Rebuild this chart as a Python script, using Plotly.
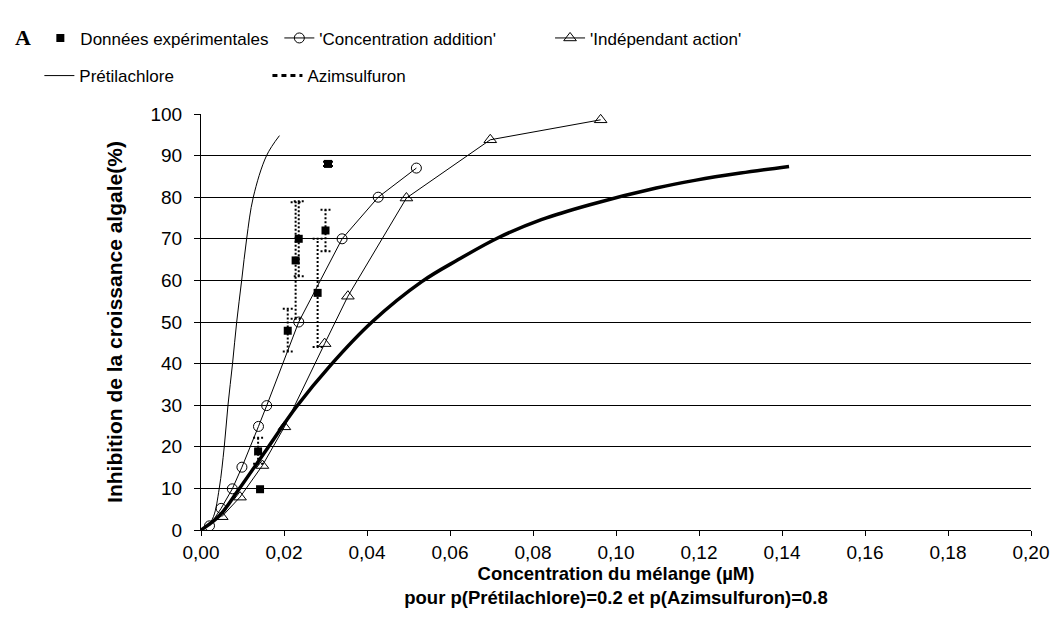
import plotly.graph_objects as go

# ---------------- data ----------------
exp_x = [0.01376, 0.01423, 0.0209, 0.0228, 0.02355, 0.0281, 0.0300, 0.0306]
exp_y = [18.9, 9.8, 47.9, 64.8, 70.0, 57.0, 72.0, 88.0]
exp_err_lo = [3.0, 0.0, 5.0, 14.0, 9.0, 13.0, 5.0, 0.5]
exp_err_hi = [3.3, 0.0, 5.3, 14.0, 9.0, 13.0, 5.0, 0.5]

ca_x = [0.00205, 0.00485, 0.00755, 0.00986, 0.01385, 0.01583, 0.02355, 0.0340, 0.0427, 0.0519]
ca_y = [1.0, 5.2, 9.9, 15.1, 24.9, 29.9, 50.0, 70.0, 80.0, 87.0]

ia_x = [0.0050, 0.0094, 0.0148, 0.0201, 0.0298, 0.0354, 0.0495, 0.0697, 0.0963]
ia_y = [3.2, 7.9, 15.5, 24.8, 44.8, 56.2, 79.8, 93.8, 98.6]

pret_x = [0.0, 0.0015, 0.0030, 0.0044, 0.0056, 0.0065, 0.0076, 0.0086, 0.0098, 0.0110, 0.0126, 0.0158, 0.0189]
pret_y = [0.0, 0.8, 3.2, 10.0, 20.0, 30.0, 40.0, 50.0, 60.0, 70.0, 80.0, 90.0, 94.8]

azim_x = [0.0, 0.0045, 0.0090, 0.0159, 0.0229, 0.0313, 0.0412, 0.0532, 0.0620, 0.0715, 0.0820,
          0.0937, 0.1097, 0.1193, 0.1300, 0.1417]
azim_y = [0.0, 3.5, 9.6, 19.5, 29.5, 39.7, 50.0, 59.7, 65.0, 70.2, 74.6,
          78.2, 82.2, 84.1, 85.8, 87.4]

x_tick_vals = [0.00, 0.02, 0.04, 0.06, 0.08, 0.10, 0.12, 0.14, 0.16, 0.18, 0.20]
y_tick_vals = [0, 10, 20, 30, 40, 50, 60, 70, 80, 90, 100]

# ---------------- layout geometry ----------------
OFF = 8                     # default page margin around the figure
W, H = 1061 - OFF, 628 - OFF
L, R, T, B = 193, 23, 102, 98
PW, PH = W - L - R, H - T - B
CAP = 0.0012  # half-width of the error-bar caps in x units

def px(xpage):
    return (xpage - OFF - L) / PW

def py(ypage):
    return (H - B - (ypage - OFF)) / PH

FONT = "Liberation Sans, Arial, sans-serif"

fig = go.Figure()

# Prétilachlore (thin curve)
fig.add_trace(go.Scatter(x=pret_x, y=pret_y, mode="lines", line=dict(color="black", width=1, shape="spline"),
                         name="Prétilachlore", legend="legend4"))
# Azimsulfuron (bold curve) + legend-only dashed sample
fig.add_trace(go.Scatter(x=azim_x, y=azim_y, mode="lines", line=dict(color="black", width=3.5, shape="spline"),
                         showlegend=False))
fig.add_trace(go.Scatter(x=[None], y=[None], mode="lines", line=dict(color="black", width=3, dash="5px,4px"),
                         name="Azimsulfuron", legend="legend5"))
# Concentration addition
fig.add_trace(go.Scatter(x=ca_x, y=ca_y, mode="lines+markers", line=dict(color="black", width=1),
                         marker=dict(symbol="circle-open", size=10, color="black", line=dict(width=1)),
                         name="'Concentration addition'", legend="legend2"))
# Independent action
fig.add_trace(go.Scatter(x=ia_x, y=ia_y, mode="lines+markers", line=dict(color="black", width=1),
                         marker=dict(symbol="triangle-up-open", size=11, color="black", line=dict(width=1)),
                         name="'Indépendant action'", legend="legend3"))

# error bars (dotted), built from the data
ex, ey = [], []
for xv, yv, lo, hi in zip(exp_x, exp_y, exp_err_lo, exp_err_hi):
    if lo == 0 and hi == 0:
        continue
    ex += [xv, xv, None, xv - CAP, xv + CAP, None, xv - CAP, xv + CAP, None]
    ey += [yv - lo, yv + hi, None, yv + hi, yv + hi, None, yv - lo, yv - lo, None]
fig.add_trace(go.Scatter(x=ex, y=ey, mode="lines", line=dict(color="black", width=2, dash="2px,2px"),
                         showlegend=False, connectgaps=False))

# experimental data
fig.add_trace(go.Scatter(x=exp_x, y=exp_y, mode="markers",
                         marker=dict(symbol="square", size=8, color="black"),
                         name="Données expérimentales", legend="legend"))

leg_common = dict(font=dict(family=FONT, size=17, color="black"), bgcolor="rgba(0,0,0,0)",
                  xanchor="left", yanchor="top", borderwidth=0)

fig.update_layout(
    width=W, height=H,
    margin=dict(l=L, r=R, t=T, b=B),
    paper_bgcolor="white", plot_bgcolor="white",
    separators=", ",
    font=dict(family=FONT, size=19, color="black"),
    legend=dict(x=px(39), y=py(15.5), **leg_common),
    legend2=dict(x=px(280), y=py(15.5), **leg_common),
    legend3=dict(x=px(553), y=py(15.5), **leg_common),
    legend4=dict(x=px(38), y=py(53.5), **leg_common),
    legend5=dict(x=px(268), y=py(53.5), **leg_common),
    xaxis=dict(range=[0, 0.2], tickvals=x_tick_vals, tickformat=".2f",
               showgrid=False, zeroline=False, showline=True, linecolor="black", linewidth=1,
               ticks="outside", ticklen=5, tickcolor="black",
               tickfont=dict(family=FONT, size=19, color="black"),
               title=dict(text="<b>Concentration du mélange (µM)<br>pour p(Prétilachlore)=0.2 et p(Azimsulfuron)=0.8</b>",
                          font=dict(family=FONT, size=18.5, color="black"), standoff=3)),
    yaxis=dict(range=[0, 100], tickvals=y_tick_vals,
               showgrid=True, gridcolor="black", gridwidth=1, zeroline=False,
               showline=True, linecolor="black", linewidth=1,
               ticks="outside", ticklen=6, tickcolor="black", ticklabelstandoff=8,
               tickfont=dict(family=FONT, size=19, color="black"),
               title=dict(text="<b>Inhibition de la croissance algale(%)</b>",
                          font=dict(family=FONT, size=21, color="black"), standoff=22)),
    annotations=[dict(text="<b>A</b>", x=px(22), y=py(33), xref="paper", yref="paper",
                      xanchor="center", yanchor="middle", showarrow=False,
                      font=dict(family="Liberation Serif, Times New Roman, serif", size=22, color="black"))],
)

fig.write_html("out.html")
